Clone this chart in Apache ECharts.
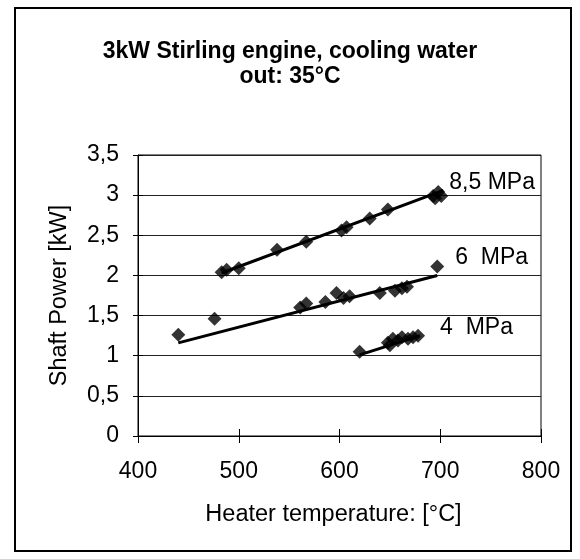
<!DOCTYPE html>
<html>
<head>
<meta charset="utf-8">
<script src="https://cdn.jsdelivr.net/npm/echarts@6/dist/echarts.min.js"></script>
<style>
html,body{margin:0;padding:0;background:#fff;}
#chart{width:580px;height:559px;}
</style>
</head>
<body>
<div id="chart"></div>
<script>
// Measured data (Heater temperature °C, Shaft power kW)
const data85 = [
  [483, 2.04], [488, 2.07], [500, 2.09], [538, 2.32], [567, 2.42],
  [602, 2.56], [607, 2.60], [630, 2.71], [648, 2.82], [693, 2.99],
  [698, 3.04], [701, 2.99], [695, 2.96]
];
const data60 = [
  [440, 1.26], [476, 1.46], [561, 1.60], [567, 1.65], [586, 1.67],
  [597, 1.78], [604, 1.72], [610, 1.74], [640, 1.78], [655, 1.81],
  [662, 1.84], [667, 1.86], [697, 2.11]
];
const data40 = [
  [620, 1.05], [648, 1.16], [650, 1.13], [653, 1.21], [658, 1.19],
  [662, 1.23], [668, 1.21], [673, 1.23], [678, 1.25]
];
// Trendline end points
const trend85 = [[483, 2.03], [703, 3.06]];
const trend60 = [[440, 1.16], [697, 2.00]];
const trend40 = [[620, 1.01], [680, 1.25]];
const seriesNames = ['8,5 MPa', '6  MPa', '4  MPa'];
const titleLines = ['3kW Stirling engine, cooling water', 'out: 35°C'];
const xName = 'Heater temperature: [°C]';
const yName = 'Shaft Power [kW]';

const FONT = 'Liberation Sans, Arial, sans-serif';
const chart = echarts.init(document.getElementById('chart'), null, {renderer: 'canvas'});
const comma = v => String(v).replace('.', ',');

function scatter(d) {
  return {
    type: 'scatter', data: d, symbol: 'diamond', symbolSize: 14,
    itemStyle: {color: '#000'}, z: 3, silent: true
  };
}
function trend(d, name, off) {
  return {
    type: 'line', data: d, showSymbol: false, symbol: 'none', z: 2, silent: true,
    lineStyle: {color: '#000', width: 3},
    endLabel: {
      show: true, formatter: () => name, distance: 0, offset: off,
      color: '#000', fontFamily: FONT, fontSize: 23
    }
  };
}

const option = {
  animation: false,
  backgroundColor: '#fff',
  title: {
    text: titleLines.join('\n'),
    left: 'center', top: 34,
    textStyle: {fontFamily: FONT, fontSize: 23, fontWeight: 'bold', color: '#000', lineHeight: 25}
  },
  grid: {left: 138, right: 39, top: 155, bottom: 123, show: true, borderColor: '#000', borderWidth: 1},
  xAxis: [{
    type: 'value', min: 400, max: 800, interval: 100,
    name: xName, nameLocation: 'middle', nameGap: 67,
    nameTextStyle: {fontFamily: FONT, fontSize: 23.5, color: '#000', padding: [0, 12, 0, 0]},
    axisLine: {lineStyle: {color: '#000', width: 1}},
    axisTick: {show: true, length: 7, lineStyle: {color: '#000'}},
    axisLabel: {fontFamily: FONT, fontSize: 23, color: '#000', margin: 24},
    splitLine: {show: false}
  }, {
    type: 'value', min: 400, max: 800, interval: 100, position: 'bottom',
    axisLine: {show: false},
    axisTick: {show: true, inside: true, length: 7, lineStyle: {color: '#000'}},
    axisLabel: {show: false}, splitLine: {show: false}
  }],
  yAxis: [{
    type: 'value', min: 0, max: 3.5, interval: 0.5,
    name: yName, nameLocation: 'middle', nameGap: 66, nameRotate: 90,
    nameTextStyle: {fontFamily: FONT, fontSize: 23.5, color: '#000'},
    axisLine: {show: true, lineStyle: {color: '#000', width: 1}},
    axisTick: {show: true, length: 5, lineStyle: {color: '#000'}},
    axisLabel: {fontFamily: FONT, fontSize: 23, color: '#000', margin: 19, formatter: comma},
    splitLine: {show: true, lineStyle: {color: '#222', width: 1}}
  }, {
    type: 'value', min: 0, max: 3.5, interval: 0.5, position: 'left',
    axisLine: {show: false},
    axisTick: {show: true, inside: true, length: 5, lineStyle: {color: '#000'}},
    axisLabel: {show: false}, splitLine: {show: false}
  }],
  graphic: [{
    type: 'rect', silent: true,
    shape: {x: 15, y: 8, width: 556, height: 543},
    style: {fill: 'none', stroke: '#000', lineWidth: 2}
  }],
  series: [
    trend(trend85, seriesNames[0], [6, -8]),
    trend(trend60, seriesNames[1], [18, -18]),
    trend(trend40, seriesNames[2], [20, -8]),
    scatter(data85), scatter(data60), scatter(data40)
  ]
};
chart.setOption(option);
</script>
</body>
</html>
